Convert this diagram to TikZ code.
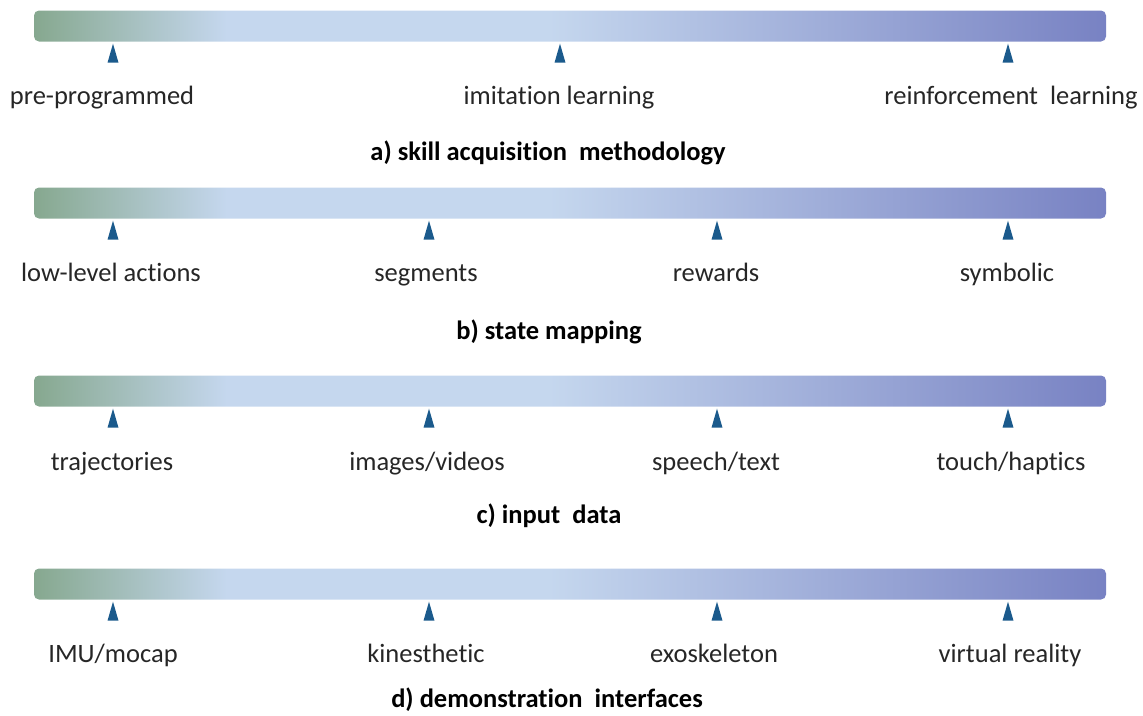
\documentclass[tikz,border=0pt]{standalone}
\usepackage{fontspec}
\setmainfont[Ligatures=NoCommon]{Carlito}
\usepackage{xcolor}
\definecolor{barleft}{HTML}{86A88F}
\definecolor{barmid}{HTML}{C5D7EE}
\definecolor{barright}{HTML}{7882C3}
\definecolor{tickblue}{HTML}{1B5A8C}
\definecolor{textgray}{HTML}{262626}
\pgfdeclarehorizontalshading{barshade}{100bp}{color(0bp)=(barleft); color(25bp)=(barleft); color(34bp)=(barmid); color(49bp)=(barmid); color(75bp)=(barright); color(100bp)=(barright)}

\begin{document}
\begin{tikzpicture}[x=1pt,y=-1pt,
  bar/.style={rounded corners=5pt,shading=barshade,minimum width=1072pt,minimum height=31pt,inner sep=0pt},
  itemlabel/.style={anchor=base,text=textgray,font=\fontsize{26.5}{31}\selectfont,inner sep=0pt},
  caption/.style={anchor=base,text=black,font=\fontsize{26.5}{31}\selectfont\bfseries,inner sep=0pt}]
  \useasboundingbox (0,0) rectangle (1143,715);

  % bars
  \node[bar] (barA) at (570,26) {};
  \node[bar] (barB) at (570,203) {};
  \node[bar] (barC) at (570,391) {};
  \node[bar] (barD) at (570,584) {};

  % tick marks below the bars
  \foreach \b/\x in {A/113,A/560,A/1008,
                     B/113,B/429,B/717,B/1008,
                     C/113,C/429,C/717,C/1008,
                     D/113,D/429,D/717,D/1008}
    \fill[tickblue] (\x-5.5,0 |- bar\b.south) ++(0,21) -- ++(5.5,-19) -- ++(5.5,19) -- cycle;

  % a) skill acquisition methodology
  \node[itemlabel] (preprog) at (102,104) {pre-programmed};
  \node[itemlabel] (imitation) at (559,104) {imitation learning};
  \node[itemlabel] (reinforce) at (1011,104) {reinforcement\ \ learning};
  \node[caption] (capA) at (548,160) {a) skill acquisition\ \ methodology};

  % b) state mapping
  \node[itemlabel] (lowlevel) at (111,281) {low-level actions};
  \node[itemlabel] (segments) at (426,281) {segments};
  \node[itemlabel] (rewards) at (716,281) {rewards};
  \node[itemlabel] (symbolic) at (1007,281) {symbolic};
  \node[caption] (capB) at (549,339) {b) state mapping};

  % c) input data
  \node[itemlabel] (traject) at (112,470) {trajectories};
  \node[itemlabel] (images) at (427,470) {images/videos};
  \node[itemlabel] (speech) at (716,470) {speech/text};
  \node[itemlabel] (touch) at (1011,470) {touch/haptics};
  \node[caption] (capC) at (549,523) {c) input\ \ data};

  % d) demonstration interfaces
  \node[itemlabel] (imu) at (113,662) {IMU/mocap};
  \node[itemlabel] (kinest) at (426,662) {kinesthetic};
  \node[itemlabel] (exoskel) at (714,662) {exoskeleton};
  \node[itemlabel] (virtual) at (1010,662) {virtual reality};
  \node[caption] (capD) at (547,707) {d) demonstration\ \ interfaces};
\end{tikzpicture}
\end{document}
